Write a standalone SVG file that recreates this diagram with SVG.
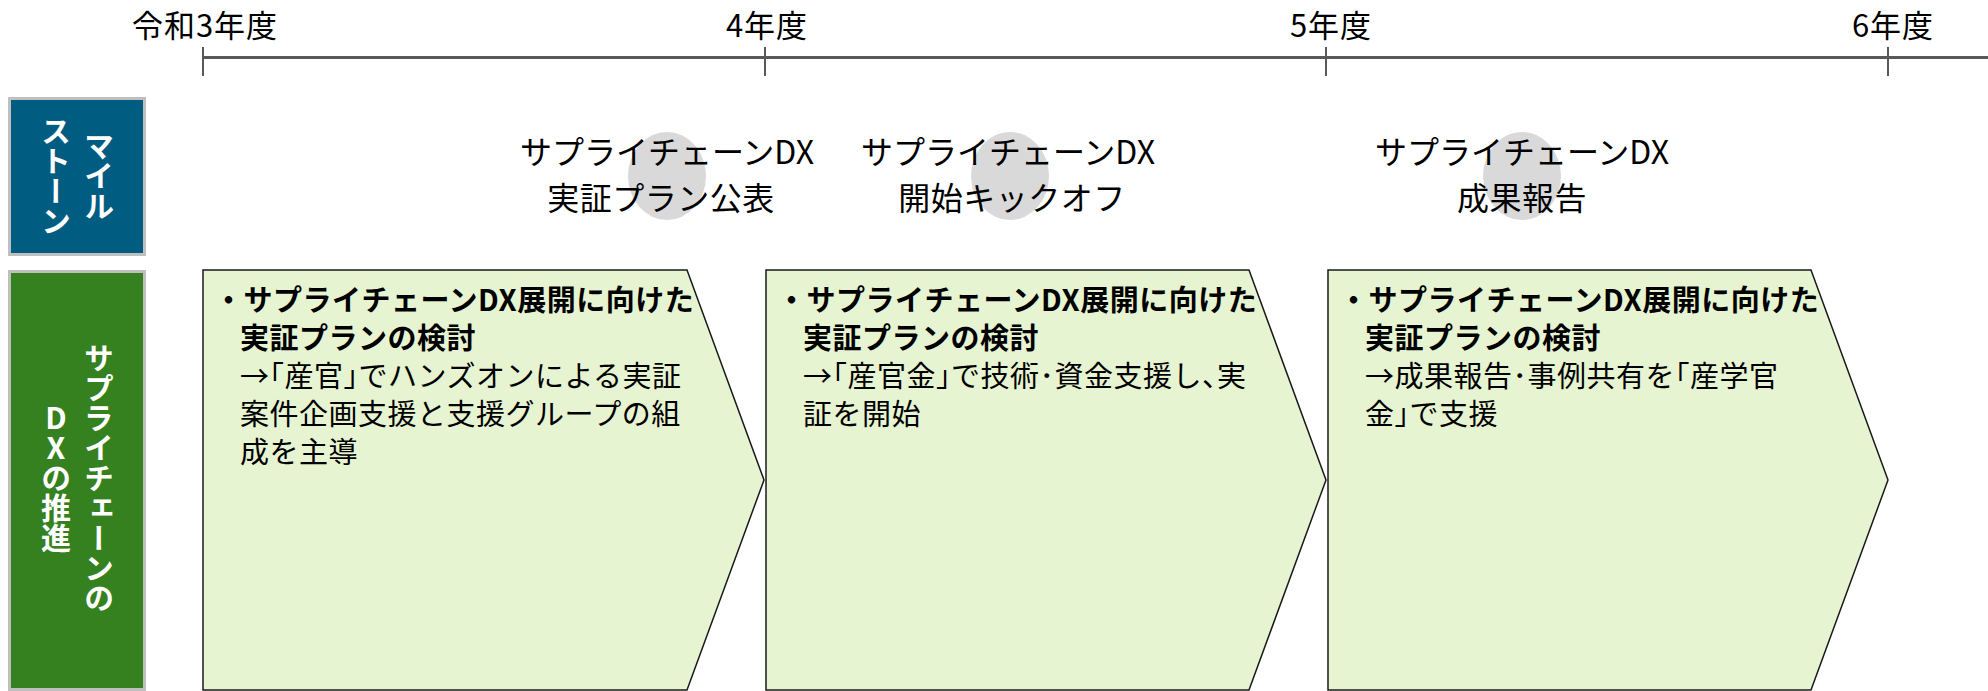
<svg xmlns="http://www.w3.org/2000/svg" width="1988" height="691" viewBox="0 0 1988 691">
<style>
text { font-family: "Noto Sans CJK JP", "Noto Sans", sans-serif; fill: #000; }
.yr { font-size: 31px; letter-spacing: 1px; }
.ms { font-size: 32px; }
.ms2 { font-size: 32px; letter-spacing: 0.5px; }
.vt { writing-mode: vertical-rl; text-orientation: upright; font-size: 30px; font-weight: bold; fill: #fff; }
.cb { font-size: 29px; font-weight: bold; letter-spacing: 0.5px; }
.cr { font-size: 29px; letter-spacing: 0.5px; }
.h { font-feature-settings: "halt"; }
.axis { stroke: #595959; stroke-width: 3; fill: none; }
.tick { stroke: #595959; stroke-width: 2; fill: none; }
.chev { fill: #E6F4D1; stroke: #1a1a1a; stroke-width: 1.5; stroke-linejoin: miter; }
.mdot { fill: #D9D9D9; }
.side { stroke: #BFBFBF; stroke-width: 3; }
</style>
<rect width="1988" height="691" fill="#ffffff"/>

<g id="timeline">
  <line class="axis" x1="203" y1="57.5" x2="1988" y2="57.5"/>
  <line class="tick" x1="203" y1="47" x2="203" y2="76"/>
  <line class="tick" x1="765" y1="47" x2="765" y2="76"/>
  <line class="tick" x1="1326" y1="47" x2="1326" y2="76"/>
  <line class="tick" x1="1888" y1="47" x2="1888" y2="76"/>
  <text class="yr" x="205" y="37" text-anchor="middle">令和3年度</text>
  <text class="yr" x="767" y="37" text-anchor="middle">4年度</text>
  <text class="yr" x="1331" y="37" text-anchor="middle">5年度</text>
  <text class="yr" x="1893" y="37" text-anchor="middle">6年度</text>
</g>

<g id="label-milestone">
  <rect class="side" x="9.5" y="98.5" width="135" height="156" fill="#005C80"/>
  <text class="vt" x="99" y="176" text-anchor="middle">マイル</text>
  <text class="vt" x="56" y="176" text-anchor="middle">ストーン</text>
</g>

<g id="label-dx">
  <rect class="side" x="9.5" y="271.5" width="135" height="418" fill="#35801F"/>
  <text class="vt" x="99" y="478" text-anchor="middle">サプライチェーンの</text>
  <text class="vt" x="56" y="478" text-anchor="middle">DXの推進</text>
</g>

<g id="milestone-1">
  <ellipse class="mdot" cx="667" cy="176" rx="39" ry="44"/>
  <text class="ms" x="667" y="164" text-anchor="middle">サプライチェーンDX</text>
  <text class="ms2" x="661" y="210" text-anchor="middle">実証プラン公表</text>
</g>
<g id="milestone-2">
  <ellipse class="mdot" cx="1010" cy="176" rx="39" ry="44"/>
  <text class="ms" x="1008" y="164" text-anchor="middle">サプライチェーンDX</text>
  <text class="ms2" x="1012" y="210" text-anchor="middle">開始キックオフ</text>
</g>
<g id="milestone-3">
  <ellipse class="mdot" cx="1522" cy="176" rx="39" ry="44"/>
  <text class="ms" x="1522" y="164" text-anchor="middle">サプライチェーンDX</text>
  <text class="ms2" x="1522" y="210" text-anchor="middle">成果報告</text>
</g>

<g id="phase-1">
  <polygon class="chev" points="203,270 687,270 764,480 687,690 203,690"/>
  <text class="cb" x="214" y="311">・サプライチェーンDX展開に向けた</text>
  <text class="cb" x="240" y="349">実証プランの検討</text>
  <text class="cr" x="240" y="387">→<tspan class="h">「</tspan>産官<tspan class="h">」</tspan>でハンズオンによる実証</text>
  <text class="cr" x="240" y="425">案件企画支援と支援グループの組</text>
  <text class="cr" x="240" y="463">成を主導</text>
</g>

<g id="phase-2">
  <polygon class="chev" points="766,270 1249,270 1326,480 1249,690 766,690"/>
  <text class="cb" x="777" y="311">・サプライチェーンDX展開に向けた</text>
  <text class="cb" x="803" y="349">実証プランの検討</text>
  <text class="cr" x="803" y="387">→<tspan class="h">「</tspan>産官金<tspan class="h">」</tspan>で技術･資金支援し<tspan class="h">、</tspan>実</text>
  <text class="cr" x="803" y="425">証を開始</text>
</g>

<g id="phase-3">
  <polygon class="chev" points="1328,270 1811,270 1888,480 1811,690 1328,690"/>
  <text class="cb" x="1339" y="311">・サプライチェーンDX展開に向けた</text>
  <text class="cb" x="1365" y="349">実証プランの検討</text>
  <text class="cr" x="1365" y="387">→成果報告･事例共有を<tspan class="h">「</tspan>産学官</text>
  <text class="cr" x="1365" y="425">金<tspan class="h">」</tspan>で支援</text>
</g>

<g id="connectors"></g>
</svg>
